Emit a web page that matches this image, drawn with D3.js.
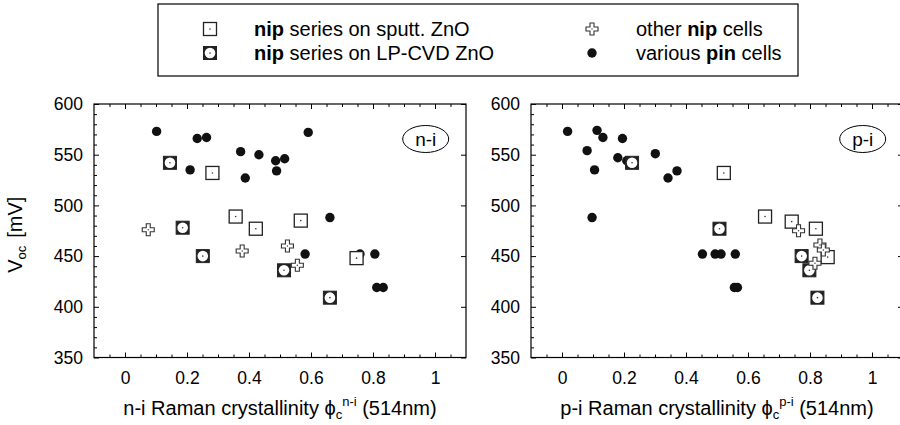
<!DOCTYPE html>
<html lang="en">
<head>
  <meta charset="UTF-8">
  <title>Voc vs Raman crystallinity</title>
  <script src="https://d3js.org/d3.v7.min.js"></script>
  <style>
    body { margin: 0; background: #fff; }
    svg { font-family: "Liberation Sans", Arial, sans-serif; }
    .tick text { font-size: 17.5px; fill: #000; }
    .tick line { stroke: #000; stroke-width: 1; }
  </style>
</head>
<body>
  <script>
    // tick values
    const xTicks = [0, 0.2, 0.4, 0.6, 0.8, 1];
    const yTicks = [350, 400, 450, 500, 550, 600];

    // n-i panel: [crystallinity, Voc mV]
    const niSputt = [[0.282, 532], [0.357, 489], [0.422, 477], [0.567, 485], [0.747, 448]];
    const niLpcvd = [[0.145, 542], [0.186, 478], [0.251, 450], [0.513, 436], [0.661, 409]];
    const niOther = [[0.075, 476], [0.378, 455], [0.524, 460], [0.556, 441]];
    const niPin = [[0.102, 573], [0.233, 566], [0.263, 567], [0.591, 572], [0.373, 553],
                   [0.432, 550], [0.486, 544], [0.515, 546], [0.210, 535], [0.489, 534],
                   [0.388, 527], [0.661, 488], [0.581, 452], [0.758, 452], [0.806, 452],
                   [0.812, 419], [0.833, 419]];

    // p-i panel
    const piSputt = [[0.522, 532], [0.655, 489], [0.741, 484], [0.819, 477], [0.857, 449]];
    const piLpcvd = [[0.226, 542], [0.508, 477], [0.773, 450], [0.798, 436], [0.824, 409]];
    const piOther = [[0.763, 475], [0.832, 461], [0.843, 456], [0.816, 443]];
    const piPin = [[0.018, 573], [0.113, 574], [0.132, 567], [0.195, 566], [0.081, 554],
                   [0.180, 547], [0.209, 544], [0.301, 551], [0.105, 535], [0.342, 527],
                   [0.371, 534], [0.097, 488], [0.453, 452], [0.494, 452], [0.513, 452],
                   [0.559, 452], [0.556, 419], [0.566, 419]];

    const svg = d3.select("body").append("svg")
      .attr("width", 900).attr("height", 425);

    const plotTop = 104, plotBottom = 357.5;

    // marker drawers
    function sputt(g) {
      g.append("rect").attr("x", -6.5).attr("y", -6.5).attr("width", 13).attr("height", 13)
        .attr("fill", "#fff").attr("stroke", "#222").attr("stroke-width", 1.3);
      g.append("circle").attr("r", 0.8).attr("fill", "#333");
    }
    function lpcvd(g) {
      g.append("rect").attr("x", -6.5).attr("y", -6.5).attr("width", 13).attr("height", 13)
        .attr("fill", "#222").attr("stroke", "#222").attr("stroke-width", 1);
      g.append("circle").attr("r", 5.3).attr("fill", "#fff");
      g.append("circle").attr("r", 0.8).attr("fill", "#333");
    }
    const crossPath = "M-2,-6H2V-2H6V2H2V6H-2V2H-6V-2H-2Z";
    function other(g) {
      g.append("path").attr("d", crossPath)
        .attr("fill", "#fff").attr("stroke", "#333").attr("stroke-width", 1.1);
      g.append("circle").attr("r", 0.7).attr("fill", "#333");
    }
    function pin(g) {
      g.append("circle").attr("r", 4.7).attr("fill", "#111");
    }

    function drawPanel(left, right, sets, tag, title) {
      const x = d3.scaleLinear().domain([-0.1, 1.1]).range([left, right]);
      const y = d3.scaleLinear().domain([350, 600]).range([plotBottom, plotTop]);
      const minorX = d3.range(-0.05, 1.1, 0.05).filter(v => Math.abs(v * 5 - Math.round(v * 5)) > 1e-6);
      const minorY = d3.range(360, 600, 10).filter(v => v % 50 !== 0);
      const p = svg.append("g");

      // bottom
      p.append("g").attr("transform", `translate(0,${plotBottom})`)
        .call(d3.axisBottom(x).tickValues(xTicks).tickSizeInner(-5).tickSizeOuter(0).tickPadding(14).tickFormat(d => String(d)))
        .call(g => g.select(".domain").remove());
      p.append("g").attr("transform", `translate(0,${plotBottom})`)
        .call(d3.axisBottom(x).tickValues(minorX).tickSizeInner(-3).tickSizeOuter(0).tickFormat(""))
        .call(g => g.select(".domain").remove());
      // top
      p.append("g").attr("transform", `translate(0,${plotTop})`)
        .call(d3.axisTop(x).tickValues(xTicks).tickSizeInner(-5).tickSizeOuter(0).tickFormat(""))
        .call(g => g.select(".domain").remove());
      p.append("g").attr("transform", `translate(0,${plotTop})`)
        .call(d3.axisTop(x).tickValues(minorX).tickSizeInner(-3).tickSizeOuter(0).tickFormat(""))
        .call(g => g.select(".domain").remove());
      // left
      p.append("g").attr("transform", `translate(${left},0)`)
        .call(d3.axisLeft(y).tickValues(yTicks).tickSizeInner(-5).tickSizeOuter(0).tickPadding(11))
        .call(g => g.select(".domain").remove());
      p.append("g").attr("transform", `translate(${left},0)`)
        .call(d3.axisLeft(y).tickValues(minorY).tickSizeInner(-3).tickSizeOuter(0).tickFormat(""))
        .call(g => g.select(".domain").remove());
      // right
      p.append("g").attr("transform", `translate(${right},0)`)
        .call(d3.axisRight(y).tickValues(yTicks).tickSizeInner(-5).tickSizeOuter(0).tickFormat(""))
        .call(g => g.select(".domain").remove());

      p.append("rect").attr("x", left).attr("y", plotTop)
        .attr("width", right - left).attr("height", plotBottom - plotTop)
        .attr("fill", "none").attr("stroke", "#000").attr("stroke-width", 1.2);

      // points
      const layers = [[sets.pin, pin], [sets.sputt, sputt], [sets.lpcvd, lpcvd], [sets.other, other]];
      layers.forEach(([data, draw]) => {
        p.append("g").selectAll("g").data(data).join("g")
          .attr("transform", d => `translate(${x(d[0])},${y(d[1])})`)
          .each(function () { draw(d3.select(this)); });
      });

      // tag ellipse
      const tx = x(0.97), ty = 139;
      p.append("ellipse").attr("cx", tx).attr("cy", ty).attr("rx", 23).attr("ry", 13.5)
        .attr("fill", "#fff").attr("stroke", "#000").attr("stroke-width", 1);
      p.append("text").attr("x", tx).attr("y", ty + 7).attr("text-anchor", "middle")
        .attr("font-size", 19).text(tag);

      // axis title
      const t = p.append("text").attr("x", x(0.5)).attr("y", 415)
        .attr("text-anchor", "middle").attr("font-size", 20);
      t.append("tspan").text(title + " Raman crystallinity ");
      t.append("tspan").text("\u03d5");
      t.append("tspan").attr("font-size", 13).attr("dy", 4).text("c");
      t.append("tspan").attr("font-size", 13).attr("dy", -13).text(title);
      t.append("tspan").attr("dy", 9).text(" (514nm)");
    }

    drawPanel(94, 466, { sputt: niSputt, lpcvd: niLpcvd, other: niOther, pin: niPin }, "n-i", "n-i");
    drawPanel(531, 903, { sputt: piSputt, lpcvd: piLpcvd, other: piOther, pin: piPin }, "p-i", "p-i");

    // y label
    const yl = svg.append("text").attr("transform", `translate(22,${(plotTop + plotBottom) / 2 + 4}) rotate(-90)`)
      .attr("text-anchor", "middle").attr("font-size", 20);
    yl.append("tspan").text("V");
    yl.append("tspan").attr("font-size", 13).attr("dy", 4).text("oc");
    yl.append("tspan").attr("dy", -4).attr("dx", 8).text("[mV]");

    // legend
    const lg = svg.append("g");
    lg.append("rect").attr("x", 158).attr("y", 4).attr("width", 640).attr("height", 72)
      .attr("fill", "#fff").attr("stroke", "#000").attr("stroke-width", 1.2);
    const legendItems = [
      { draw: sputt, x: 210, y: 29, parts: [["nip", true], [" series on sputt. ZnO", false]] },
      { draw: lpcvd, x: 210, y: 53, parts: [["nip", true], [" series on LP-CVD ZnO", false]] },
      { draw: other, x: 592, y: 29, parts: [["other ", false], ["nip", true], [" cells", false]] },
      { draw: pin, x: 592, y: 53, parts: [["various ", false], ["pin", true], [" cells", false]] }
    ];
    legendItems.forEach(it => {
      const g = lg.append("g").attr("transform", `translate(${it.x},${it.y})`);
      it.draw(g);
      const tx = lg.append("text").attr("x", it.x + 44).attr("y", it.y + 7).attr("font-size", 20);
      it.parts.forEach(([s, b]) => tx.append("tspan").attr("font-weight", b ? "bold" : "normal").text(s));
    });
  </script>
</body>
</html>
